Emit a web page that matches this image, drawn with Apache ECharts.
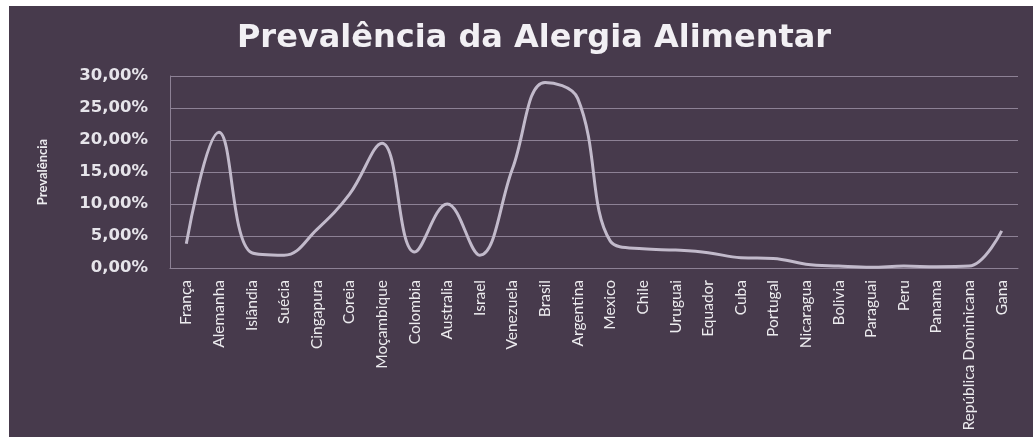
<!DOCTYPE html>
<html>
<head>
<meta charset="utf-8">
<script src="https://cdn.jsdelivr.net/npm/echarts@6/dist/echarts.min.js"></script>
<style>
  html, body { margin: 0; padding: 0; background: #ffffff; width: 1033px; height: 442px; overflow: hidden; }
  #chart { position: absolute; left: 9px; top: 6px; width: 1024px; height: 431px; }
</style>
</head>
<body>
<div id="chart"></div>
<script>
// Countries along the x axis
const countries = [
  'França', 'Alemanha', 'Islândia', 'Suécia', 'Cingapura', 'Coreia', 'Moçambique',
  'Colombia', 'Australia', 'Israel', 'Venezuela', 'Brasil', 'Argentina', 'Mexico',
  'Chile', 'Uruguai', 'Equador', 'Cuba', 'Portugal', 'Nicaragua', 'Bolivia',
  'Paraguai', 'Peru', 'Panama', 'República Dominicana', 'Gana'
];

// Prevalence of food allergy, in percent
const prevalence = [
  3.8, 21.2, 2.4, 2.0, 6.0, 11.5, 19.5,
  2.5, 10.0, 2.0, 15.5, 29.0, 26.5, 4.2,
  3.0, 2.8, 2.4, 1.6, 1.5, 0.6, 0.3,
  0.1, 0.3, 0.2, 0.3, 5.8
];

// Value axis ticks (percent)
const yMin = 0, yMax = 30, yStep = 5;

const chart = echarts.init(document.getElementById('chart'), null, { renderer: 'canvas' });

chart.setOption({
  backgroundColor: '#473a4c',
  animation: false,
  title: {
    text: 'Prevalência da Alergia Alimentar',
    left: 520,
    top: 12,
    textAlign: 'center',
    textStyle: {
      fontFamily: 'DejaVu Sans',
      fontWeight: 'bold',
      fontSize: 32,
      color: '#f2f0f4'
    }
  },
  grid: { left: 161, right: 15, top: 70, bottom: 169, containLabel: false },
  xAxis: {
    type: 'category',
    data: countries,
    boundaryGap: true,
    axisLine: { show: true, lineStyle: { color: '#8d8195', width: 1 } },
    axisTick: { show: false },
    axisLabel: {
      rotate: 90,
      interval: 0,
      margin: 12,
      color: '#ecebee',
      fontFamily: 'Lato',
      fontSize: 15.5
    }
  },
  yAxis: {
    type: 'value',
    min: yMin,
    max: yMax,
    interval: yStep,
    name: 'Prevalência',
    nameLocation: 'middle',
    nameRotate: 90,
    nameGap: 121,
    nameTextStyle: {
      color: '#ecebee',
      fontFamily: 'Lato',
      fontWeight: 'bold',
      fontSize: 13
    },
    axisLine: { show: true, lineStyle: { color: '#8d8195', width: 1 } },
    axisTick: { show: false },
    splitLine: { show: true, lineStyle: { color: '#8d8195', width: 1 } },
    axisLabel: {
      margin: 22,
      color: '#e6e4ea',
      fontFamily: 'DejaVu Sans',
      fontWeight: 'bold',
      fontSize: 16.5,
      formatter: v => v.toFixed(2).replace('.', ',') + '%'
    }
  },
  series: [{
    type: 'line',
    data: prevalence,
    smooth: 0.4,
    showSymbol: false,
    lineStyle: { color: '#c2bacb', width: 3 }
  }]
});
</script>
</body>
</html>
